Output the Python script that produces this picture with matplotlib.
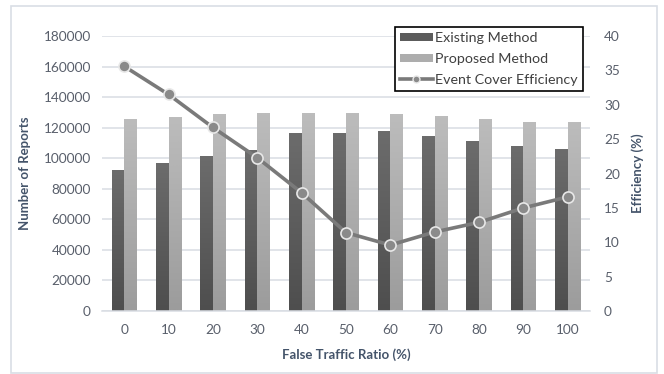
import numpy as np
import matplotlib.pyplot as plt
from matplotlib.lines import Line2D
from matplotlib.patches import Patch, Rectangle

ratios = ["0", "10", "20", "30", "40", "50", "60", "70", "80", "90", "100"]
existing = [92300, 96900, 101600, 105200, 116500, 116600, 117600, 114500, 111300, 108000, 105800]
proposed = [125700, 127200, 128700, 129400, 129400, 129800, 128700, 127600, 125700, 123900, 123500]
efficiency = [35.6, 31.5, 26.7, 22.3, 17.2, 11.4, 9.6, 11.5, 12.9, 15.0, 16.6]

TICK = "#595f6b"
TITLE = "#44546a"
GRID = "#d9dde3"

plt.rcParams["font.family"] = ["Lato", "DejaVu Sans"]


def gradient_bars(ax, bars, top_color, bottom_color):
    # shade each bar from top_color down to bottom_color
    grad = np.linspace(0, 1, 64).reshape(-1, 1)
    c0 = np.array(plt.matplotlib.colors.to_rgb(top_color))
    c1 = np.array(plt.matplotlib.colors.to_rgb(bottom_color))
    img = c0 + (c1 - c0) * grad[..., None]
    for b in bars:
        x, y = b.get_x(), b.get_y()
        w, h = b.get_width(), b.get_height()
        b.set_facecolor("none")
        im = ax.imshow(img, extent=(x, x + w, y, y + h), aspect="auto",
                       origin="upper", zorder=2, interpolation="bilinear")
        im.set_clip_path(b)


fig = plt.figure(figsize=(6.64, 3.74), dpi=100)
fig.patches.append(Rectangle((11 / 664, 1 / 374), 646 / 664, 367 / 374,
                             transform=fig.transFigure, fill=False,
                             edgecolor="#d9dee5", linewidth=1.2))

ax = fig.add_axes([0.1536, 0.1684, 0.735, 0.7353])
x = np.arange(len(ratios))
w = 0.285

b1 = ax.bar(x - w / 2, existing, w, zorder=2, linewidth=0)
b2 = ax.bar(x + w / 2, proposed, w, zorder=2, linewidth=0)
gradient_bars(ax, b1, "#6c6c6c", "#4e4e4e")
gradient_bars(ax, b2, "#bcbcbc", "#9c9c9c")

ax.set_xlim(-0.5, len(ratios) - 0.5)
ax.set_ylim(0, 180000)
ax.set_yticks(range(0, 180001, 20000))
ax.set_xticks(x)
ax.set_xticklabels(ratios)
ax.grid(axis="y", color=GRID, linewidth=1.1, zorder=0)
ax.set_axisbelow(True)
for s in ["top", "left", "right"]:
    ax.spines[s].set_visible(False)
ax.spines["bottom"].set_color(GRID)
ax.spines["bottom"].set_linewidth(1.1)
ax.tick_params(length=0, labelsize=9.8, labelcolor=TICK)
ax.tick_params(axis="x", pad=9)
ax.tick_params(axis="y", pad=8)
ax.set_xlabel("False Traffic Ratio (%)", fontsize=9.5, fontweight="bold",
              color=TITLE, labelpad=9)
ax.set_ylabel("Number of Reports", fontsize=9.5, fontweight="bold",
              color=TITLE, labelpad=9)

ax2 = ax.twinx()
ax2.plot(x, efficiency, color="#7a7a7a", linewidth=2.6, marker="o",
         markersize=8, markerfacecolor="#8a8a8a", markeredgecolor="#e8e8e8",
         markeredgewidth=1.2, zorder=3)
ax2.set_ylim(0, 40)
ax2.set_yticks(range(0, 41, 5))
for s in ax2.spines.values():
    s.set_visible(False)
ax2.tick_params(length=0, labelsize=9.8, labelcolor=TICK, pad=10)
ax2.set_ylabel("Efficiency (%)", fontsize=9.5, fontweight="bold",
               color=TITLE, labelpad=8)

handles = [
    Patch(facecolor="#5c5c5c", label="Existing Method"),
    Patch(facecolor="#adadad", label="Proposed Method"),
    Line2D([0], [0], color="#7a7a7a", linewidth=2.6, marker="o",
           markersize=5, markerfacecolor="#8a8a8a", markeredgecolor="#e8e8e8",
           label="Event Cover Efficiency"),
]
leg = ax2.legend(handles=handles, loc="upper right",
                 bbox_to_anchor=(583 / 664, 1 - 27 / 374),
                 bbox_transform=fig.transFigure, borderaxespad=0,
                 fontsize=10.3, frameon=True,
                 fancybox=False, edgecolor="black", framealpha=1,
                 borderpad=0.35, labelspacing=0.62, handlelength=2.3,
                 handletextpad=0.2, handleheight=0.45)
leg.get_frame().set_linewidth(1.2)
for t in leg.get_texts():
    t.set_color("#404040")

fig.savefig("out.png", dpi=100)
